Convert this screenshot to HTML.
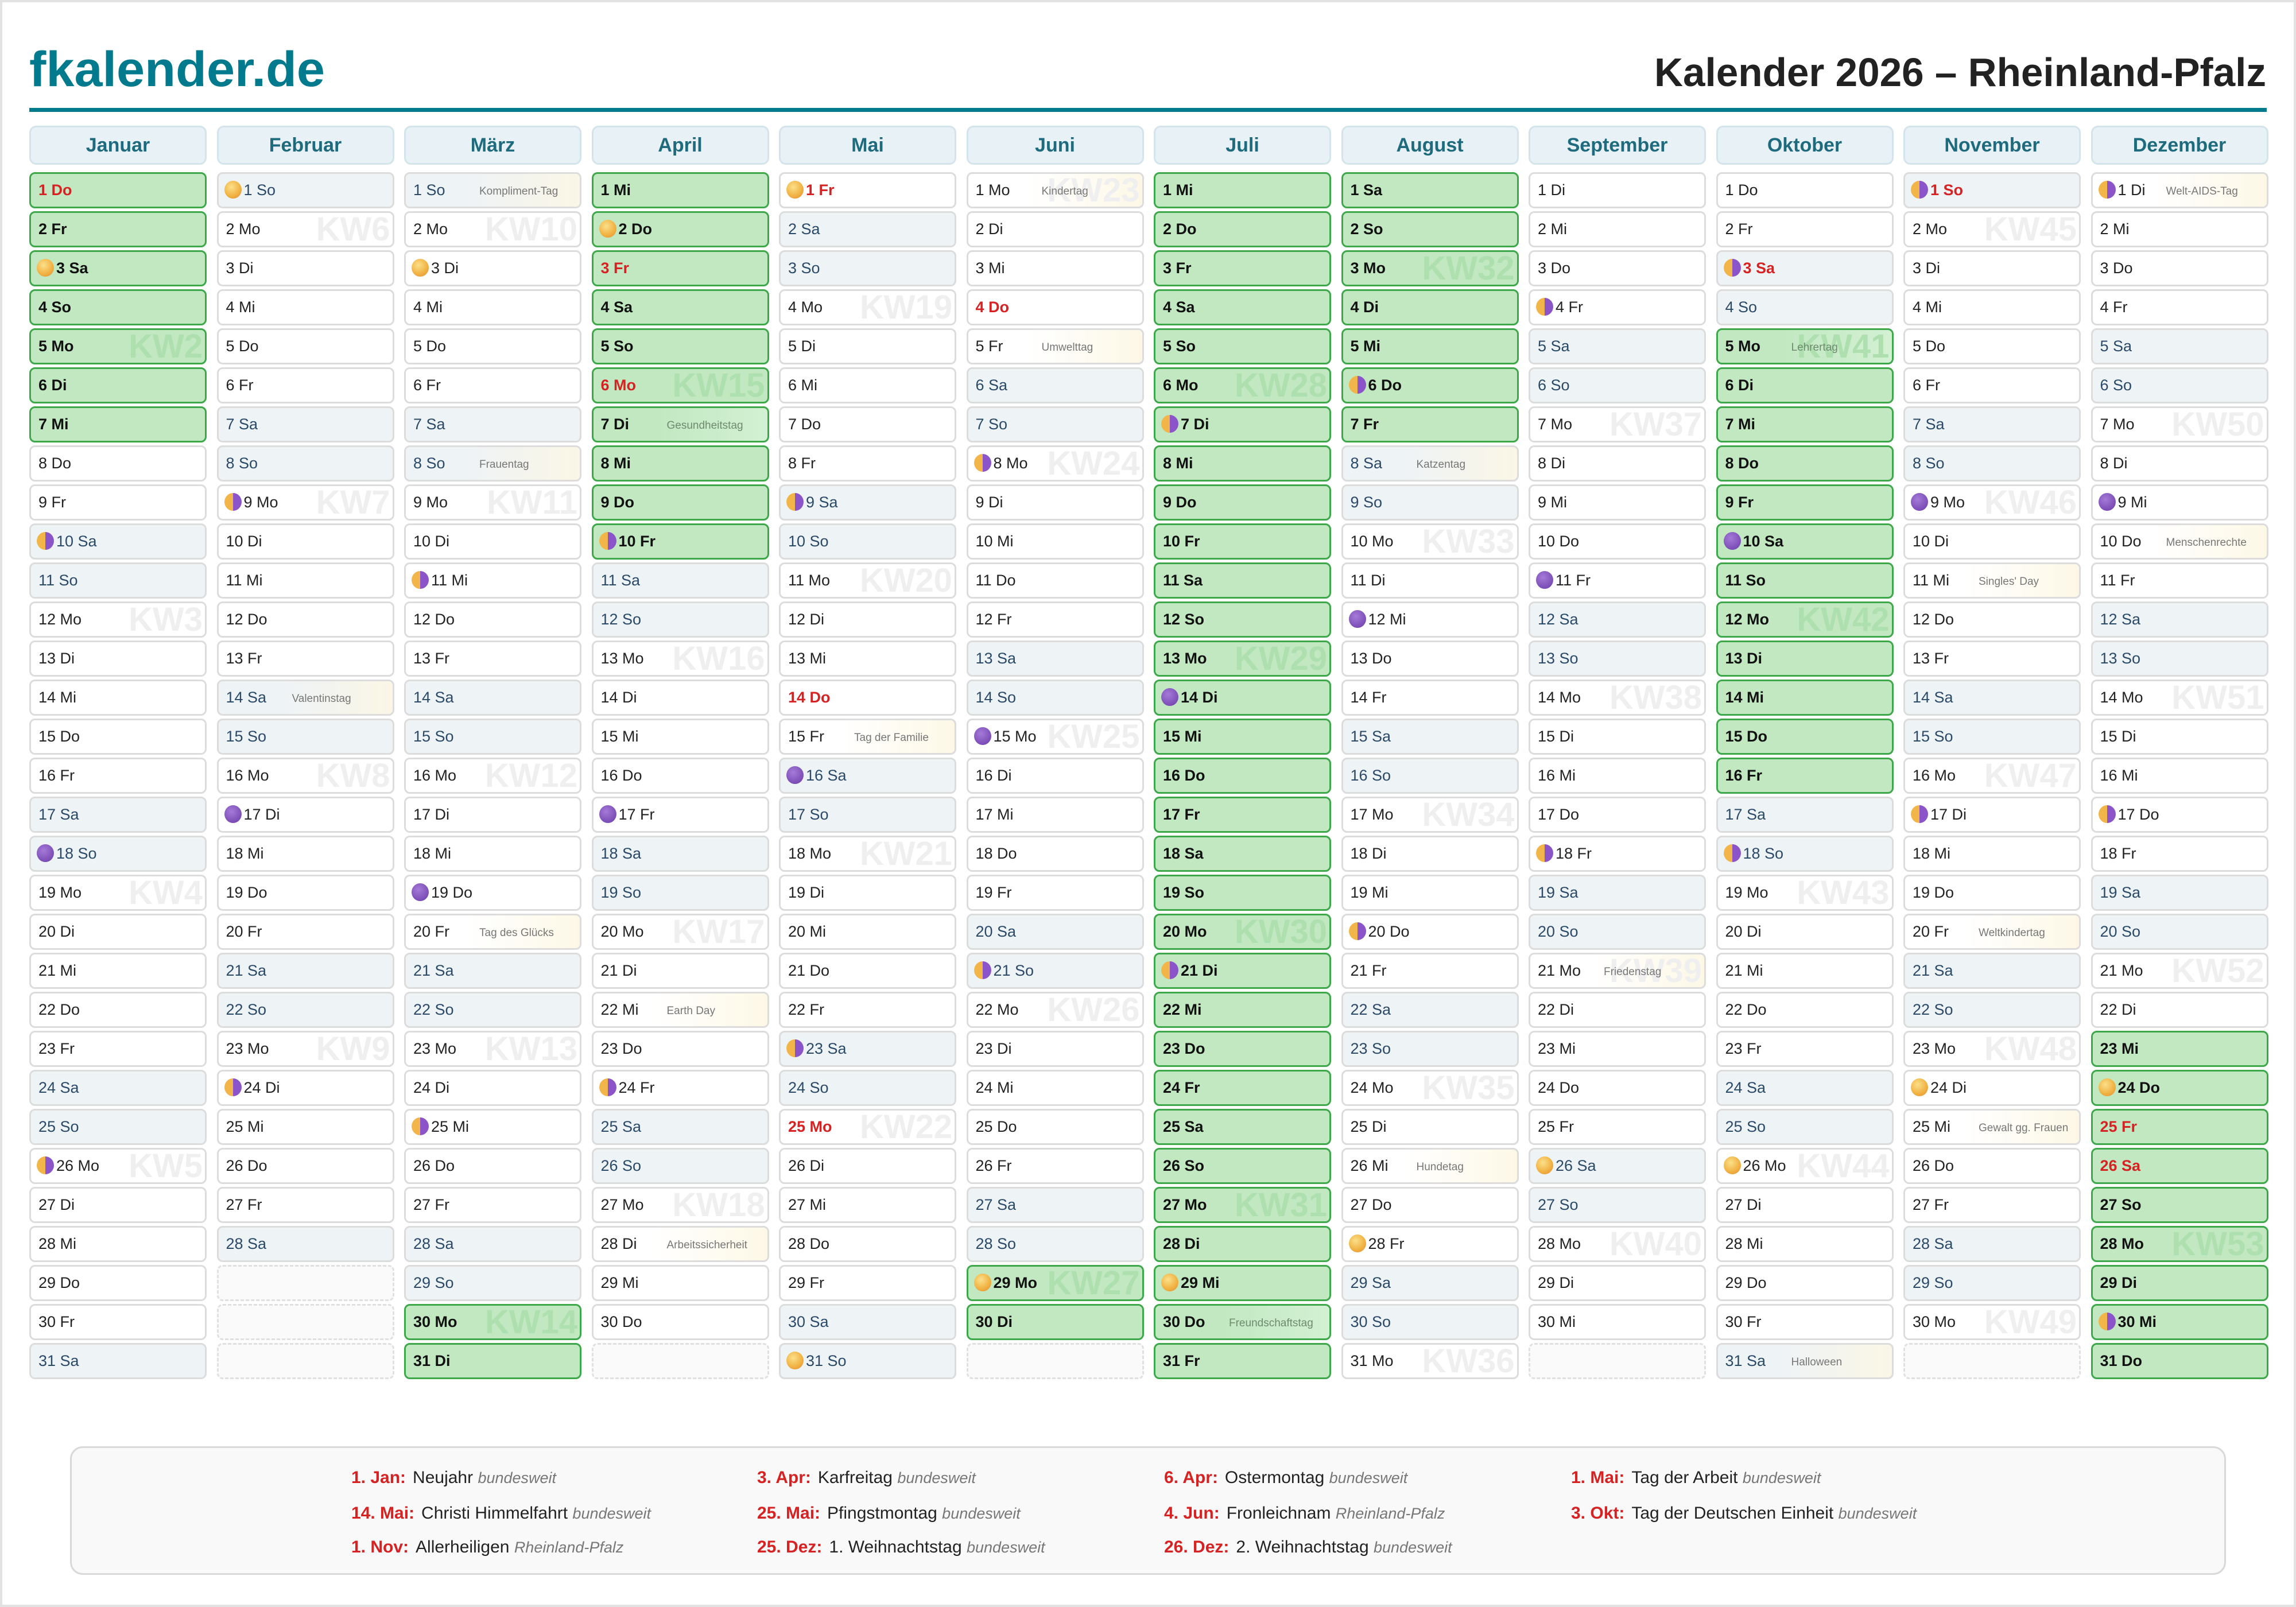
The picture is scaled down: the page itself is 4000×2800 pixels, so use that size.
<!DOCTYPE html>
<html><head><meta charset="utf-8">
<style>
body{margin:0;width:4000px;height:2800px;position:relative;background:#fff;font-family:"Liberation Sans",sans-serif;overflow:hidden}
.frame{position:absolute;left:0;top:0;width:4000px;height:2800px;border:4px solid #e2e2e2;box-sizing:border-box}
.col{position:absolute;top:219px;width:309px}
.hd{height:68px;box-sizing:border-box;border:3px solid #d3e4ea;border-radius:12px;background:#e8f1f5;color:#1f6b7e;font-weight:bold;font-size:34px;text-align:center;line-height:62px;margin-bottom:13px}
p{margin:0 0 5px;height:63px;box-sizing:border-box;border:3px solid #dcdcdc;border-radius:10px;background:#fff;position:relative;z-index:0;font-size:27px;line-height:57px;padding-left:13px;color:#222;white-space:nowrap;overflow:hidden}
p.w{background:#eef3f6;color:#2b4a68}
p.e{background:linear-gradient(90deg,#fff 35%,#fdf8e6)}
p.w.e{background:linear-gradient(90deg,#eef3f6 35%,#fbf6e6)}
p.g{background:#c1e8c1;border-color:#3da84a;font-weight:bold;color:#111}
p.g.e{background:linear-gradient(90deg,#c1e8c1 35%,#d3f0d3)}
p.r{color:#d62222;font-weight:bold}
p.x{border:3px dashed #e0e0e0;background:#fafafa}
i{display:inline-block;width:30px;height:31px;border-radius:50%;vertical-align:middle;margin:-5px 4px 0 -3px}
i.f{background:radial-gradient(circle at 40% 35%,#fbe08a,#f0b040 60%,#e08a3a)}
i.h{background:linear-gradient(90deg,#f2b54a 50%,#8b55c9 50%)}
i.n{background:radial-gradient(circle at 40% 35%,#a57ad8,#6a3aa8)}
b{position:absolute;right:4px;top:-2px;font-size:58px;line-height:62px;color:#efefef;font-weight:bold;z-index:-1}
p.g b{color:#aedfae}
em{position:absolute;left:128px;top:2px;font-style:normal;font-size:19px;color:#777;font-weight:normal}
p.g em{color:#6f8a6f}
.leg{position:absolute;left:122px;top:2520px;width:3756px;height:224px;box-sizing:border-box;border:3px solid #d8d8d8;border-radius:22px;background:#f9f9f9}
.li{position:absolute;font-size:30px;line-height:40px;color:#222;white-space:nowrap}
.li s{text-decoration:none;color:#d62222;font-weight:bold;margin-right:12px}
.li u{text-decoration:none;font-style:italic;color:#777;font-size:27px}
</style></head><body>
<div class="frame"></div>
<svg width="4000" height="200" style="position:absolute;left:0;top:0">
<text x="51" y="150" font-family="Liberation Sans" font-weight="bold" font-size="86" fill="#007a8c" textLength="515" lengthAdjust="spacingAndGlyphs">fkalender.de</text>
<text x="2882" y="150" font-family="Liberation Sans" font-weight="bold" font-size="70" fill="#222" textLength="1066" lengthAdjust="spacingAndGlyphs">Kalender 2026 – Rheinland-Pfalz</text>
<rect x="51" y="188" width="3898" height="7" fill="#007a8c"/>
</svg>

<div class="col" style="left:51px"><div class="hd">Januar</div>
<p class="g r">1 Do</p><p class="g">2 Fr</p><p class="g"><i class="f"></i>3 Sa</p><p class="g">4 So</p><p class="g">5 Mo<b>KW2</b></p><p class="g">6 Di</p><p class="g">7 Mi</p><p>8 Do</p><p>9 Fr</p><p class="w"><i class="h"></i>10 Sa</p><p class="w">11 So</p><p>12 Mo<b>KW3</b></p><p>13 Di</p><p>14 Mi</p><p>15 Do</p><p>16 Fr</p><p class="w">17 Sa</p><p class="w"><i class="n"></i>18 So</p><p>19 Mo<b>KW4</b></p><p>20 Di</p><p>21 Mi</p><p>22 Do</p><p>23 Fr</p><p class="w">24 Sa</p><p class="w">25 So</p><p><i class="h"></i>26 Mo<b>KW5</b></p><p>27 Di</p><p>28 Mi</p><p>29 Do</p><p>30 Fr</p><p class="w">31 Sa</p>
</div>

<div class="col" style="left:377.5px"><div class="hd">Februar</div>
<p class="w"><i class="f"></i>1 So</p><p>2 Mo<b>KW6</b></p><p>3 Di</p><p>4 Mi</p><p>5 Do</p><p>6 Fr</p><p class="w">7 Sa</p><p class="w">8 So</p><p><i class="h"></i>9 Mo<b>KW7</b></p><p>10 Di</p><p>11 Mi</p><p>12 Do</p><p>13 Fr</p><p class="w e">14 Sa<em>Valentinstag</em></p><p class="w">15 So</p><p>16 Mo<b>KW8</b></p><p><i class="n"></i>17 Di</p><p>18 Mi</p><p>19 Do</p><p>20 Fr</p><p class="w">21 Sa</p><p class="w">22 So</p><p>23 Mo<b>KW9</b></p><p><i class="h"></i>24 Di</p><p>25 Mi</p><p>26 Do</p><p>27 Fr</p><p class="w">28 Sa</p><p class="x"></p><p class="x"></p><p class="x"></p>
</div>

<div class="col" style="left:704px"><div class="hd">März</div>
<p class="w e">1 So<em>Kompliment-Tag</em></p><p>2 Mo<b>KW10</b></p><p><i class="f"></i>3 Di</p><p>4 Mi</p><p>5 Do</p><p>6 Fr</p><p class="w">7 Sa</p><p class="w e">8 So<em>Frauentag</em></p><p>9 Mo<b>KW11</b></p><p>10 Di</p><p><i class="h"></i>11 Mi</p><p>12 Do</p><p>13 Fr</p><p class="w">14 Sa</p><p class="w">15 So</p><p>16 Mo<b>KW12</b></p><p>17 Di</p><p>18 Mi</p><p><i class="n"></i>19 Do</p><p class="e">20 Fr<em>Tag des Glücks</em></p><p class="w">21 Sa</p><p class="w">22 So</p><p>23 Mo<b>KW13</b></p><p>24 Di</p><p><i class="h"></i>25 Mi</p><p>26 Do</p><p>27 Fr</p><p class="w">28 Sa</p><p class="w">29 So</p><p class="g">30 Mo<b>KW14</b></p><p class="g">31 Di</p>
</div>

<div class="col" style="left:1030.5px"><div class="hd">April</div>
<p class="g">1 Mi</p><p class="g"><i class="f"></i>2 Do</p><p class="g r">3 Fr</p><p class="g">4 Sa</p><p class="g">5 So</p><p class="g r">6 Mo<b>KW15</b></p><p class="g e">7 Di<em>Gesundheitstag</em></p><p class="g">8 Mi</p><p class="g">9 Do</p><p class="g"><i class="h"></i>10 Fr</p><p class="w">11 Sa</p><p class="w">12 So</p><p>13 Mo<b>KW16</b></p><p>14 Di</p><p>15 Mi</p><p>16 Do</p><p><i class="n"></i>17 Fr</p><p class="w">18 Sa</p><p class="w">19 So</p><p>20 Mo<b>KW17</b></p><p>21 Di</p><p class="e">22 Mi<em>Earth Day</em></p><p>23 Do</p><p><i class="h"></i>24 Fr</p><p class="w">25 Sa</p><p class="w">26 So</p><p>27 Mo<b>KW18</b></p><p class="e">28 Di<em>Arbeitssicherheit</em></p><p>29 Mi</p><p>30 Do</p><p class="x"></p>
</div>

<div class="col" style="left:1357px"><div class="hd">Mai</div>
<p class="r"><i class="f"></i>1 Fr</p><p class="w">2 Sa</p><p class="w">3 So</p><p>4 Mo<b>KW19</b></p><p>5 Di</p><p>6 Mi</p><p>7 Do</p><p>8 Fr</p><p class="w"><i class="h"></i>9 Sa</p><p class="w">10 So</p><p>11 Mo<b>KW20</b></p><p>12 Di</p><p>13 Mi</p><p class="r">14 Do</p><p class="e">15 Fr<em>Tag der Familie</em></p><p class="w"><i class="n"></i>16 Sa</p><p class="w">17 So</p><p>18 Mo<b>KW21</b></p><p>19 Di</p><p>20 Mi</p><p>21 Do</p><p>22 Fr</p><p class="w"><i class="h"></i>23 Sa</p><p class="w">24 So</p><p class="r">25 Mo<b>KW22</b></p><p>26 Di</p><p>27 Mi</p><p>28 Do</p><p>29 Fr</p><p class="w">30 Sa</p><p class="w"><i class="f"></i>31 So</p>
</div>

<div class="col" style="left:1683.5px"><div class="hd">Juni</div>
<p class="e">1 Mo<b>KW23</b><em>Kindertag</em></p><p>2 Di</p><p>3 Mi</p><p class="r">4 Do</p><p class="e">5 Fr<em>Umwelttag</em></p><p class="w">6 Sa</p><p class="w">7 So</p><p><i class="h"></i>8 Mo<b>KW24</b></p><p>9 Di</p><p>10 Mi</p><p>11 Do</p><p>12 Fr</p><p class="w">13 Sa</p><p class="w">14 So</p><p><i class="n"></i>15 Mo<b>KW25</b></p><p>16 Di</p><p>17 Mi</p><p>18 Do</p><p>19 Fr</p><p class="w">20 Sa</p><p class="w"><i class="h"></i>21 So</p><p>22 Mo<b>KW26</b></p><p>23 Di</p><p>24 Mi</p><p>25 Do</p><p>26 Fr</p><p class="w">27 Sa</p><p class="w">28 So</p><p class="g"><i class="f"></i>29 Mo<b>KW27</b></p><p class="g">30 Di</p><p class="x"></p>
</div>

<div class="col" style="left:2010px"><div class="hd">Juli</div>
<p class="g">1 Mi</p><p class="g">2 Do</p><p class="g">3 Fr</p><p class="g">4 Sa</p><p class="g">5 So</p><p class="g">6 Mo<b>KW28</b></p><p class="g"><i class="h"></i>7 Di</p><p class="g">8 Mi</p><p class="g">9 Do</p><p class="g">10 Fr</p><p class="g">11 Sa</p><p class="g">12 So</p><p class="g">13 Mo<b>KW29</b></p><p class="g"><i class="n"></i>14 Di</p><p class="g">15 Mi</p><p class="g">16 Do</p><p class="g">17 Fr</p><p class="g">18 Sa</p><p class="g">19 So</p><p class="g">20 Mo<b>KW30</b></p><p class="g"><i class="h"></i>21 Di</p><p class="g">22 Mi</p><p class="g">23 Do</p><p class="g">24 Fr</p><p class="g">25 Sa</p><p class="g">26 So</p><p class="g">27 Mo<b>KW31</b></p><p class="g">28 Di</p><p class="g"><i class="f"></i>29 Mi</p><p class="g e">30 Do<em>Freundschaftstag</em></p><p class="g">31 Fr</p>
</div>

<div class="col" style="left:2336.5px"><div class="hd">August</div>
<p class="g">1 Sa</p><p class="g">2 So</p><p class="g">3 Mo<b>KW32</b></p><p class="g">4 Di</p><p class="g">5 Mi</p><p class="g"><i class="h"></i>6 Do</p><p class="g">7 Fr</p><p class="w e">8 Sa<em>Katzentag</em></p><p class="w">9 So</p><p>10 Mo<b>KW33</b></p><p>11 Di</p><p><i class="n"></i>12 Mi</p><p>13 Do</p><p>14 Fr</p><p class="w">15 Sa</p><p class="w">16 So</p><p>17 Mo<b>KW34</b></p><p>18 Di</p><p>19 Mi</p><p><i class="h"></i>20 Do</p><p>21 Fr</p><p class="w">22 Sa</p><p class="w">23 So</p><p>24 Mo<b>KW35</b></p><p>25 Di</p><p class="e">26 Mi<em>Hundetag</em></p><p>27 Do</p><p><i class="f"></i>28 Fr</p><p class="w">29 Sa</p><p class="w">30 So</p><p>31 Mo<b>KW36</b></p>
</div>

<div class="col" style="left:2663px"><div class="hd">September</div>
<p>1 Di</p><p>2 Mi</p><p>3 Do</p><p><i class="h"></i>4 Fr</p><p class="w">5 Sa</p><p class="w">6 So</p><p>7 Mo<b>KW37</b></p><p>8 Di</p><p>9 Mi</p><p>10 Do</p><p><i class="n"></i>11 Fr</p><p class="w">12 Sa</p><p class="w">13 So</p><p>14 Mo<b>KW38</b></p><p>15 Di</p><p>16 Mi</p><p>17 Do</p><p><i class="h"></i>18 Fr</p><p class="w">19 Sa</p><p class="w">20 So</p><p class="e">21 Mo<b>KW39</b><em>Friedenstag</em></p><p>22 Di</p><p>23 Mi</p><p>24 Do</p><p>25 Fr</p><p class="w"><i class="f"></i>26 Sa</p><p class="w">27 So</p><p>28 Mo<b>KW40</b></p><p>29 Di</p><p>30 Mi</p><p class="x"></p>
</div>

<div class="col" style="left:2989.5px"><div class="hd">Oktober</div>
<p>1 Do</p><p>2 Fr</p><p class="w r"><i class="h"></i>3 Sa</p><p class="w">4 So</p><p class="g e">5 Mo<b>KW41</b><em>Lehrertag</em></p><p class="g">6 Di</p><p class="g">7 Mi</p><p class="g">8 Do</p><p class="g">9 Fr</p><p class="g"><i class="n"></i>10 Sa</p><p class="g">11 So</p><p class="g">12 Mo<b>KW42</b></p><p class="g">13 Di</p><p class="g">14 Mi</p><p class="g">15 Do</p><p class="g">16 Fr</p><p class="w">17 Sa</p><p class="w"><i class="h"></i>18 So</p><p>19 Mo<b>KW43</b></p><p>20 Di</p><p>21 Mi</p><p>22 Do</p><p>23 Fr</p><p class="w">24 Sa</p><p class="w">25 So</p><p><i class="f"></i>26 Mo<b>KW44</b></p><p>27 Di</p><p>28 Mi</p><p>29 Do</p><p>30 Fr</p><p class="w e">31 Sa<em>Halloween</em></p>
</div>

<div class="col" style="left:3316px"><div class="hd">November</div>
<p class="w r"><i class="h"></i>1 So</p><p>2 Mo<b>KW45</b></p><p>3 Di</p><p>4 Mi</p><p>5 Do</p><p>6 Fr</p><p class="w">7 Sa</p><p class="w">8 So</p><p><i class="n"></i>9 Mo<b>KW46</b></p><p>10 Di</p><p class="e">11 Mi<em>Singles' Day</em></p><p>12 Do</p><p>13 Fr</p><p class="w">14 Sa</p><p class="w">15 So</p><p>16 Mo<b>KW47</b></p><p><i class="h"></i>17 Di</p><p>18 Mi</p><p>19 Do</p><p class="e">20 Fr<em>Weltkindertag</em></p><p class="w">21 Sa</p><p class="w">22 So</p><p>23 Mo<b>KW48</b></p><p><i class="f"></i>24 Di</p><p class="e">25 Mi<em>Gewalt gg. Frauen</em></p><p>26 Do</p><p>27 Fr</p><p class="w">28 Sa</p><p class="w">29 So</p><p>30 Mo<b>KW49</b></p><p class="x"></p>
</div>

<div class="col" style="left:3642.5px"><div class="hd">Dezember</div>
<p class="e"><i class="h"></i>1 Di<em>Welt-AIDS-Tag</em></p><p>2 Mi</p><p>3 Do</p><p>4 Fr</p><p class="w">5 Sa</p><p class="w">6 So</p><p>7 Mo<b>KW50</b></p><p>8 Di</p><p><i class="n"></i>9 Mi</p><p class="e">10 Do<em>Menschenrechte</em></p><p>11 Fr</p><p class="w">12 Sa</p><p class="w">13 So</p><p>14 Mo<b>KW51</b></p><p>15 Di</p><p>16 Mi</p><p><i class="h"></i>17 Do</p><p>18 Fr</p><p class="w">19 Sa</p><p class="w">20 So</p><p>21 Mo<b>KW52</b></p><p>22 Di</p><p class="g">23 Mi</p><p class="g"><i class="f"></i>24 Do</p><p class="g r">25 Fr</p><p class="g r">26 Sa</p><p class="g">27 So</p><p class="g">28 Mo<b>KW53</b></p><p class="g">29 Di</p><p class="g"><i class="h"></i>30 Mi</p><p class="g">31 Do</p>
</div>

<div class="leg"></div>
<div class="li" style="left:612px;top:2555px"><s>1. Jan:</s>Neujahr <u>bundesweit</u></div>
<div class="li" style="left:612px;top:2617px"><s>14. Mai:</s>Christi Himmelfahrt <u>bundesweit</u></div>
<div class="li" style="left:612px;top:2676px"><s>1. Nov:</s>Allerheiligen <u>Rheinland-Pfalz</u></div>
<div class="li" style="left:1319px;top:2555px"><s>3. Apr:</s>Karfreitag <u>bundesweit</u></div>
<div class="li" style="left:1319px;top:2617px"><s>25. Mai:</s>Pfingstmontag <u>bundesweit</u></div>
<div class="li" style="left:1319px;top:2676px"><s>25. Dez:</s>1. Weihnachtstag <u>bundesweit</u></div>
<div class="li" style="left:2028px;top:2555px"><s>6. Apr:</s>Ostermontag <u>bundesweit</u></div>
<div class="li" style="left:2028px;top:2617px"><s>4. Jun:</s>Fronleichnam <u>Rheinland-Pfalz</u></div>
<div class="li" style="left:2028px;top:2676px"><s>26. Dez:</s>2. Weihnachtstag <u>bundesweit</u></div>
<div class="li" style="left:2737px;top:2555px"><s>1. Mai:</s>Tag der Arbeit <u>bundesweit</u></div>
<div class="li" style="left:2737px;top:2617px"><s>3. Okt:</s>Tag der Deutschen Einheit <u>bundesweit</u></div>
</body></html>
